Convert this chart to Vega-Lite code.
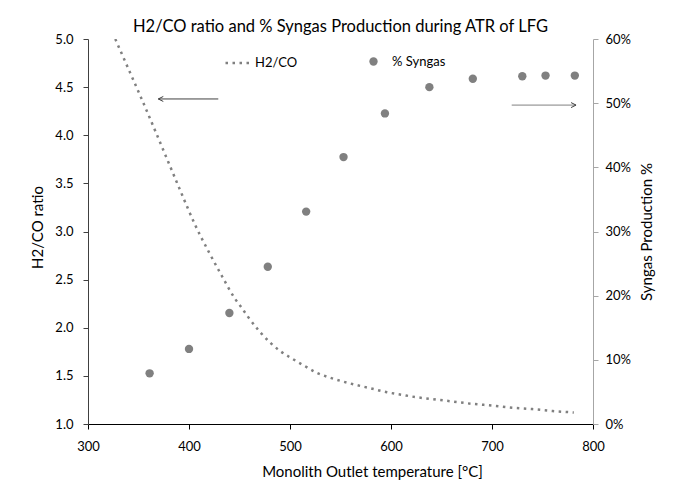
{
  "$schema": "https://vega.github.io/schema/vega-lite/v6.json",
  "width": 505,
  "height": 385,
  "autosize": {"type": "none"},
  "padding": {"left": 88, "top": 39, "right": 80, "bottom": 57},
  "background": "white",
  "config": {
    "view": {"stroke": null},
    "font": "Lato",
    "axis": {
      "grid": false,
      "labelFont": "Lato",
      "titleFont": "Lato",
      "labelFontSize": 13,
      "titleFontSize": 15,
      "titleFontWeight": "normal",
      "labelColor": "#000000",
      "titleColor": "#000000",
      "tickSize": 5,
      "labelFlush": false,
      "labelOverlap": false
    },
    "legend": {"labelFont": "Lato", "labelFontSize": 13, "labelColor": "#000000"}
  },
  "title": {
    "text": "H2/CO ratio and % Syngas Production during ATR of LFG",
    "font": "Lato",
    "fontSize": 16.5,
    "fontWeight": "normal",
    "color": "#000000",
    "anchor": "middle",
    "baseline": "alphabetic",
    "offset": -15
  },
  "datasets": {
    "ratio": [
      {"T": 327, "H": 5.0},
      {"T": 340, "H": 4.69},
      {"T": 353, "H": 4.38},
      {"T": 366, "H": 4.06},
      {"T": 378, "H": 3.76},
      {"T": 392, "H": 3.41},
      {"T": 406, "H": 3.07},
      {"T": 420, "H": 2.78},
      {"T": 433, "H": 2.53},
      {"T": 445, "H": 2.31},
      {"T": 452, "H": 2.21},
      {"T": 458, "H": 2.12},
      {"T": 470, "H": 1.96},
      {"T": 480, "H": 1.85},
      {"T": 490, "H": 1.76},
      {"T": 502, "H": 1.68},
      {"T": 515, "H": 1.6},
      {"T": 527, "H": 1.53},
      {"T": 540, "H": 1.48},
      {"T": 560, "H": 1.42},
      {"T": 580, "H": 1.37},
      {"T": 596, "H": 1.33},
      {"T": 610, "H": 1.305},
      {"T": 624, "H": 1.28},
      {"T": 640, "H": 1.26},
      {"T": 660, "H": 1.235},
      {"T": 680, "H": 1.21},
      {"T": 702, "H": 1.19},
      {"T": 720, "H": 1.17},
      {"T": 740, "H": 1.155},
      {"T": 760, "H": 1.135},
      {"T": 781, "H": 1.12}
    ],
    "syngas": [
      {"T": 361, "P": 0.079},
      {"T": 400, "P": 0.117},
      {"T": 440, "P": 0.173},
      {"T": 478, "P": 0.245},
      {"T": 516, "P": 0.331},
      {"T": 553, "P": 0.416},
      {"T": 594, "P": 0.484},
      {"T": 638, "P": 0.525},
      {"T": 681, "P": 0.538},
      {"T": 730, "P": 0.542},
      {"T": 753, "P": 0.543},
      {"T": 782, "P": 0.543}
    ],
    "leftArrow": [{"T": 369.6, "T2": 429, "H": 4.377}],
    "rightArrow": [{"T": 719.5, "T2": 783.2, "P": 0.497}]
  },
  "layer": [
    {
      "layer": [
        {
          "data": {"name": "ratio"},
          "mark": {"type": "line", "color": "#808080", "strokeWidth": 2.5, "strokeCap": "butt", "interpolate": "monotone", "clip": true},
          "encoding": {
            "x": {
              "field": "T", "type": "quantitative",
              "scale": {"domain": [300, 800], "nice": false},
              "title": "Monolith Outlet temperature [°C]",
              "axis": {"values": [300, 400, 500, 600, 700, 800], "domainColor": "#000000", "tickColor": "#000000", "labelPadding": 11, "titlePadding": 11, "titleX": 284}
            },
            "y": {
              "field": "H", "type": "quantitative",
              "scale": {"domain": [1, 5], "nice": false, "zero": false},
              "title": "H2/CO ratio",
              "axis": {"orient": "left", "values": [1, 1.5, 2, 2.5, 3, 3.5, 4, 4.5, 5], "format": ".1f", "domainColor": "#404040", "tickColor": "#404040", "labelPadding": 10, "titlePadding": 9, "titleY": 188}
            },
            "strokeDash": {
              "datum": "H2/CO", "type": "nominal",
              "scale": {"domain": ["H2/CO"], "range": [[2.5, 4.5]]},
              "legend": {"title": null, "orient": "none", "legendX": 136, "legendY": 10, "symbolType": "stroke", "symbolSize": 625, "symbolStrokeColor": "#808080", "symbolStrokeWidth": 2.5, "labelOffset": 3, "padding": 0}
            }
          }
        },
        {
          "data": {"name": "leftArrow"},
          "mark": {"type": "rule", "color": "#404040", "strokeWidth": 1},
          "encoding": {
            "x": {"field": "T", "type": "quantitative", "title": "Monolith Outlet temperature [°C]"},
            "x2": {"field": "T2"},
            "y": {"field": "H", "type": "quantitative", "title": "H2/CO ratio"}
          }
        },
        {
          "data": {"name": "leftArrow"},
          "mark": {"type": "point", "shape": "M2,-1L0,0L2,1", "size": 25, "filled": false, "color": "#404040", "strokeWidth": 1, "opacity": 1},
          "encoding": {
            "x": {"field": "T", "type": "quantitative", "title": "Monolith Outlet temperature [°C]"},
            "y": {"field": "H", "type": "quantitative", "title": "H2/CO ratio"}
          }
        }
      ]
    },
    {
      "layer": [
        {
          "data": {"name": "syngas"},
          "mark": {"type": "point", "filled": true, "color": "#808080", "size": 70, "opacity": 1},
          "encoding": {
            "x": {"field": "T", "type": "quantitative", "title": "Monolith Outlet temperature [°C]"},
            "y": {
              "field": "P", "type": "quantitative",
              "scale": {"domain": [0, 0.6], "nice": false},
              "title": "Syngas Production %",
              "axis": {"orient": "right", "values": [0, 0.1, 0.2, 0.3, 0.4, 0.5, 0.6], "format": ".0%", "domainColor": "#a6a6a6", "tickColor": "#a6a6a6", "labelPadding": 7, "titlePadding": 9, "titleAngle": 270, "titleBaseline": "top"}
            },
            "shape": {
              "datum": "% Syngas", "type": "nominal",
              "scale": {"domain": ["% Syngas"], "range": ["circle"]},
              "legend": {"title": null, "orient": "none", "legendX": 279, "legendY": 16, "symbolSize": 70, "symbolFillColor": "#808080", "symbolStrokeColor": "#808080", "symbolStrokeWidth": 0, "symbolOpacity": 1, "labelOffset": 12, "padding": 0}
            }
          }
        },
        {
          "data": {"name": "rightArrow"},
          "mark": {"type": "rule", "color": "#808080", "strokeWidth": 1},
          "encoding": {
            "x": {"field": "T", "type": "quantitative", "title": "Monolith Outlet temperature [°C]"},
            "x2": {"field": "T2"},
            "y": {"field": "P", "type": "quantitative", "title": "Syngas Production %"}
          }
        },
        {
          "data": {"name": "rightArrow"},
          "mark": {"type": "point", "shape": "M-2,-1L0,0L-2,1", "size": 25, "filled": false, "color": "#404040", "strokeWidth": 1, "opacity": 1},
          "encoding": {
            "x": {"field": "T2", "type": "quantitative", "title": "Monolith Outlet temperature [°C]"},
            "y": {"field": "P", "type": "quantitative", "title": "Syngas Production %"}
          }
        }
      ]
    }
  ],
  "resolve": {"scale": {"y": "independent"}}
}
